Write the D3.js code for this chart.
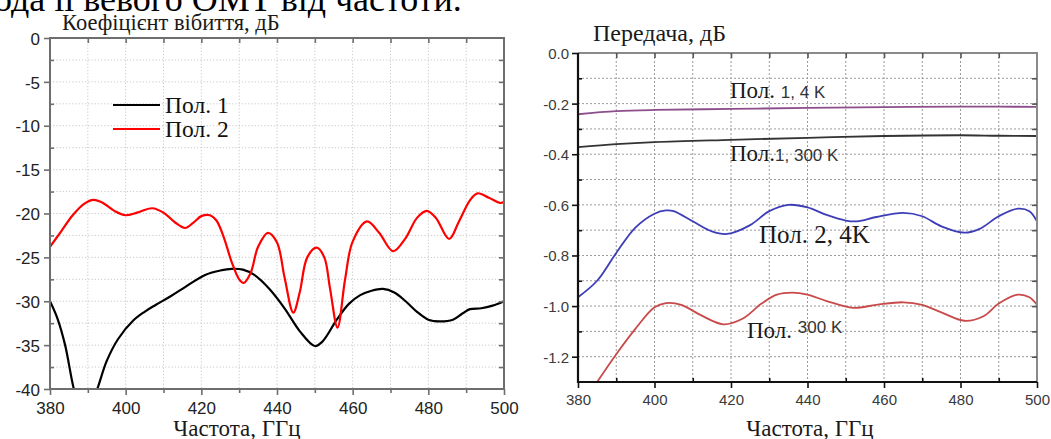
<!DOCTYPE html>
<html>
<head>
<meta charset="utf-8">
<script src="https://cdn.jsdelivr.net/npm/d3@7"></script>
<style>
  html, body { margin: 0; padding: 0; background: #fff; }
  svg { display: block; }
  .serif { font-family: "Liberation Serif", "DejaVu Serif", serif; }
  .sans { font-family: "Liberation Sans", Arial, sans-serif; }
</style>
</head>
<body>
<svg id="chart" width="1051" height="439"></svg>
<script>
// ---- Reflection coefficient (left panel) ----
const reflFreq1 = [380, 382, 384, 386.3, 389, 392.5, 395, 398, 402, 405, 408, 412, 416, 421, 425, 428, 431, 434, 438, 442, 446, 450, 452, 455.8, 459, 462, 465, 468, 471, 474, 477, 480, 483, 486.5, 489, 491, 494, 497, 500];
const reflPol1  = [-30.0, -32.0, -35.0, -40.0, -44.0, -40.0, -36.8, -34.3, -32.2, -31.2, -30.4, -29.4, -28.3, -27.0, -26.5, -26.3, -26.4, -27.0, -28.6, -30.8, -33.4, -35.1, -34.6, -32.1, -30.3, -29.3, -28.8, -28.6, -29.0, -30.0, -31.2, -32.1, -32.3, -32.1, -31.4, -30.9, -30.8, -30.5, -30.0];

const reflFreq2 = [380, 383, 386, 389, 391.5, 394, 397, 400, 403, 407, 410, 413, 415.7, 418, 420, 422.3, 424, 426, 428, 430, 431.2, 433, 435, 437.6, 440, 442, 444.3, 446, 448, 450.5, 452.5, 454, 456, 458, 460, 463.8, 467, 470.7, 474, 477, 479.6, 482, 485.5, 488, 491, 493, 496, 499, 500];
const reflPol2  = [-23.8, -22.0, -20.2, -18.9, -18.45, -18.8, -19.7, -20.2, -19.9, -19.4, -19.9, -21.0, -21.65, -21.0, -20.3, -20.2, -20.8, -22.8, -25.5, -27.5, -27.9, -26.8, -23.8, -22.2, -23.3, -27.3, -31.3, -29.0, -25.0, -23.9, -25.0, -28.5, -33.0, -27.5, -23.2, -20.9, -22.2, -24.3, -22.8, -20.5, -19.7, -20.5, -22.9, -21.0, -18.5, -17.7, -18.2, -18.8, -18.7];

const reflXTicks = [380, 400, 420, 440, 460, 480, 500];
const reflYTicks = [0, -5, -10, -15, -20, -25, -30, -35, -40];
const reflLegend = ["Пол. 1", "Пол. 2"];

// ---- Transmission (right panel) ----
const transFreqA = [380, 390, 400, 420, 440, 460, 480, 490, 500];
const transPol1_4K   = [-0.242, -0.230, -0.225, -0.221, -0.217, -0.214, -0.212, -0.212, -0.213];
const transPol1_300K = [-0.372, -0.360, -0.352, -0.343, -0.335, -0.328, -0.325, -0.327, -0.328];

const transFreqB = [380, 385, 390, 395, 400, 403, 405, 410, 415, 419, 425, 430, 435, 440, 445, 450, 453, 458, 465, 470, 475, 481, 485, 490, 495, 498, 500];
const transPol2_4K = [-0.965, -0.90, -0.79, -0.69, -0.635, -0.622, -0.625, -0.665, -0.705, -0.715, -0.68, -0.625, -0.600, -0.610, -0.640, -0.662, -0.665, -0.648, -0.632, -0.645, -0.685, -0.710, -0.695, -0.645, -0.615, -0.625, -0.665];

const transFreqC = [385, 390, 395, 400, 403, 407, 412, 418, 423, 428, 432, 436, 440, 445, 452, 458, 465, 470, 475, 481, 486, 490, 495, 498, 500];
const transPol2_300K = [-1.30, -1.19, -1.09, -1.005, -0.988, -0.995, -1.035, -1.072, -1.05, -0.99, -0.955, -0.947, -0.955, -0.98, -1.007, -0.995, -0.985, -0.995, -1.025, -1.058, -1.04, -0.99, -0.955, -0.965, -0.995];

const transXTicks = [380, 400, 420, 440, 460, 480, 500];
const transYTicks = [0, -0.2, -0.4, -0.6, -0.8, -1.0, -1.2];

const svg = d3.select("#chart");
svg.append("rect").attr("width", 1051).attr("height", 439).attr("fill", "#fff");

// caption line running above the figure
svg.append("text").attr("class", "serif")
  .attr("x", -6).attr("y", 11)
  .attr("font-size", 36).attr("fill", "#000")
  .text("ода її вевого ОМТ від частоти.");

const range = (a, b, s) => d3.range(a, b + s / 2, s);
const num = v => (Math.abs(v) < 1e-9 ? 0 : v);

// ================= LEFT PANEL =================
{
  const x = d3.scaleLinear().domain([380, 500]).range([50, 504]);
  const y = d3.scaleLinear().domain([-40, 0]).range([389, 38]);
  const g = svg.append("g");
  const axisColor = "#6e6e6e";

  // dotted grid
  const grid = g.append("g").attr("stroke", "#c8c8c8").attr("stroke-width", 1).attr("stroke-dasharray", "1.2,2");
  grid.selectAll(".gx").data(range(390, 490, 10)).join("line")
    .attr("x1", d => x(d)).attr("x2", d => x(d)).attr("y1", y(0)).attr("y2", y(-40));
  grid.selectAll(".gy").data(range(-37.5, -2.5, 2.5)).join("line")
    .attr("x1", x(380)).attr("x2", x(500)).attr("y1", d => y(d)).attr("y2", d => y(d));

  // curves
  svg.append("clipPath").attr("id", "clipL").append("rect")
    .attr("x", x(380)).attr("y", y(0)).attr("width", x(500) - x(380)).attr("height", y(-40) - y(0));
  const line = d3.line().x(d => x(d[0])).y(d => y(d[1])).curve(d3.curveCatmullRom.alpha(0.5));
  const curves = g.append("g").attr("clip-path", "url(#clipL)").attr("fill", "none").attr("stroke-width", 2.2);
  curves.append("path").attr("d", line(d3.zip(reflFreq1, reflPol1))).attr("stroke", "#000");
  curves.append("path").attr("d", line(d3.zip(reflFreq2, reflPol2))).attr("stroke", "#ff0000");

  // frame
  g.append("rect").attr("x", x(380)).attr("y", y(0)).attr("width", x(500) - x(380)).attr("height", y(-40) - y(0))
    .attr("fill", "none").attr("stroke", axisColor).attr("stroke-width", 2);

  const style = sel => { sel.select(".domain").remove(); sel.selectAll("line").attr("stroke", axisColor).attr("stroke-width", 1.6); };

  // left axis: major ticks out, minor ticks in
  g.append("g").attr("transform", `translate(${x(380)},0)`)
    .call(d3.axisLeft(y).tickValues(reflYTicks).tickSize(6).tickPadding(4).tickFormat(d => String(num(d))))
    .call(style)
    .call(s => s.selectAll("text").attr("class", "sans").attr("font-size", 17).attr("fill", "#222").attr("dy", "0.36em"));
  g.append("g").attr("transform", `translate(${x(380)},0)`)
    .call(d3.axisRight(y).tickValues(range(-37.5, -2.5, 5)).tickSize(4).tickFormat(""))
    .call(style);
  // bottom axis
  g.append("g").attr("transform", `translate(0,${y(-40)})`)
    .call(d3.axisBottom(x).tickValues(reflXTicks).tickSize(6).tickPadding(7))
    .call(style)
    .call(s => s.selectAll("text").attr("class", "sans").attr("font-size", 17).attr("fill", "#222"));
  g.append("g").attr("transform", `translate(0,${y(-40)})`)
    .call(d3.axisBottom(x).tickValues(range(390, 490, 20)).tickSize(4).tickFormat(""))
    .call(style);
  // top and right inward ticks
  g.append("g").attr("transform", `translate(0,${y(0)})`)
    .call(d3.axisBottom(x).tickValues(range(390, 490, 10)).tickSize(5).tickFormat(""))
    .call(style);
  g.append("g").attr("transform", `translate(${x(500)},0)`)
    .call(d3.axisLeft(y).tickValues(range(-37.5, -2.5, 2.5)).tickSize(5).tickFormat(""))
    .call(style);

  // titles
  g.append("text").attr("class", "serif").attr("x", 62).attr("y", 30).attr("font-size", 22.5).attr("fill", "#1a1a1a")
    .text("Коефіцієнт вібиття, дБ");
  g.append("text").attr("class", "serif").attr("x", 237).attr("y", 436).attr("text-anchor", "middle")
    .attr("font-size", 23).attr("fill", "#1a1a1a").text("Частота, ГГц");

  // legend
  const legColors = ["#000", "#ff0000"];
  const leg = g.append("g");
  reflLegend.forEach((name, i) => {
    const ly = 105 + i * 24;
    leg.append("line").attr("x1", 113).attr("x2", 160).attr("y1", ly).attr("y2", ly)
      .attr("stroke", legColors[i]).attr("stroke-width", 2.2);
    leg.append("text").attr("class", "serif").attr("x", 165).attr("y", ly + 8)
      .attr("font-size", 23.5).attr("fill", "#111").text(name);
  });
}

// ================= RIGHT PANEL =================
{
  const x = d3.scaleLinear().domain([380, 500]).range([578, 1037]);
  const y = d3.scaleLinear().domain([-1.3, 0]).range([382, 53]);
  const g = svg.append("g");

  // dotted grid
  const grid = g.append("g").attr("stroke", "#9a9a9a").attr("stroke-width", 1).attr("stroke-dasharray", "2,2");
  grid.selectAll(".gx").data(range(390, 490, 10)).join("line")
    .attr("x1", d => x(d)).attr("x2", d => x(d)).attr("y1", y(0)).attr("y2", y(-1.3));
  grid.selectAll(".gy").data(range(-1.2, -0.1, 0.1)).join("line")
    .attr("x1", x(380)).attr("x2", x(500)).attr("y1", d => y(d)).attr("y2", d => y(d));

  // curves
  svg.append("clipPath").attr("id", "clipR").append("rect")
    .attr("x", x(380)).attr("y", y(0)).attr("width", x(500) - x(380)).attr("height", y(-1.3) - y(0));
  const line = d3.line().x(d => x(d[0])).y(d => y(d[1])).curve(d3.curveCatmullRom.alpha(0.5));
  const curves = g.append("g").attr("clip-path", "url(#clipR)").attr("fill", "none").attr("stroke-width", 1.8);
  curves.append("path").attr("d", line(d3.zip(transFreqA, transPol1_4K))).attr("stroke", "#8c4f8c");
  curves.append("path").attr("d", line(d3.zip(transFreqA, transPol1_300K))).attr("stroke", "#333");
  curves.append("path").attr("d", line(d3.zip(transFreqB, transPol2_4K))).attr("stroke", "#3d3db8");
  curves.append("path").attr("d", line(d3.zip(transFreqC, transPol2_300K))).attr("stroke", "#c84a4a");

  // top and right frame in grey, left and bottom axes in black
  g.append("path").attr("d", `M${x(380)},${y(0)}H${x(500)}V${y(-1.3)}`)
    .attr("fill", "none").attr("stroke", "#8a8a8a").attr("stroke-width", 2);

  const style = (c, w) => sel => { sel.select(".domain").remove(); sel.selectAll("line").attr("stroke", c).attr("stroke-width", w); };

  g.append("g").attr("transform", `translate(0,${y(0)})`)
    .call(d3.axisBottom(x).tickValues(range(390, 490, 10)).tickSize(5).tickFormat(""))
    .call(style("#555", 1.6));
  g.append("g").attr("transform", `translate(${x(500)},0)`)
    .call(d3.axisLeft(y).tickValues(range(-1.2, -0.1, 0.1)).tickSize(5).tickFormat(""))
    .call(style("#555", 1.6));

  g.append("line").attr("x1", x(380)).attr("x2", x(380)).attr("y1", y(0)).attr("y2", y(-1.3) + 1)
    .attr("stroke", "#111").attr("stroke-width", 2.2);
  g.append("line").attr("x1", x(380) - 1).attr("x2", x(500)).attr("y1", y(-1.3)).attr("y2", y(-1.3))
    .attr("stroke", "#111").attr("stroke-width", 2.2);

  g.append("g").attr("transform", `translate(${x(380)},0)`)
    .call(d3.axisLeft(y).tickValues(transYTicks).tickSize(6).tickPadding(3).tickFormat(d3.format(".1f")))
    .call(style("#111", 1.6))
    .call(s => s.selectAll("text").attr("class", "sans").attr("font-size", 15).attr("fill", "#3a3a3a")
      .attr("dy", "0.36em").text(d => d3.format(".1f")(d).replace("−", "-")));
  g.append("g").attr("transform", `translate(${x(380)},0)`)
    .call(d3.axisRight(y).tickValues(range(-1.1, -0.1, 0.2)).tickSize(4).tickFormat(""))
    .call(style("#111", 1.6));
  g.append("g").attr("transform", `translate(0,${y(-1.3)})`)
    .call(d3.axisBottom(x).tickValues(transXTicks).tickSize(6).tickPadding(6))
    .call(style("#111", 1.6))
    .call(s => s.selectAll("text").attr("class", "sans").attr("font-size", 15).attr("fill", "#3a3a3a"));
  g.append("g").attr("transform", `translate(0,${y(-1.3)})`)
    .call(d3.axisTop(x).tickValues(range(390, 490, 20)).tickSize(4).tickFormat(""))
    .call(style("#111", 1.6));

  // titles
  g.append("text").attr("class", "serif").attr("x", 593).attr("y", 41).attr("font-size", 24).attr("fill", "#1a1a1a")
    .text("Передача, дБ");
  g.append("text").attr("class", "serif").attr("x", 810).attr("y", 436).attr("text-anchor", "middle")
    .attr("font-size", 23).attr("fill", "#1a1a1a").text("Частота, ГГц");

  // curve labels: serif prefix followed by a sans suffix
  const labels = [
    { x: 730, y: 98,  a: "Пол. ", b: "1, 4 K", dyB: 0, fa: 23 },
    { x: 730, y: 161, a: "Пол.", b: "1, 300 K", dyB: 0, fa: 23 },
    { x: 759, y: 243, a: "Пол. 2, 4K", b: "", dyB: 0, fa: 25 },
    { x: 747, y: 338, a: "Пол. ", b: "300 K", dyB: -5, fa: 23 }
  ];
  labels.forEach(l => {
    const t = g.append("text").attr("x", l.x).attr("y", l.y).attr("fill", "#1a1a1a");
    t.append("tspan").attr("class", "serif").attr("font-size", l.fa).text(l.a);
    if (l.b) t.append("tspan").attr("class", "sans").attr("font-size", 17).attr("fill", "#333")
      .attr("dy", l.dyB).text(l.b);
  });
}
</script>
</body>
</html>
